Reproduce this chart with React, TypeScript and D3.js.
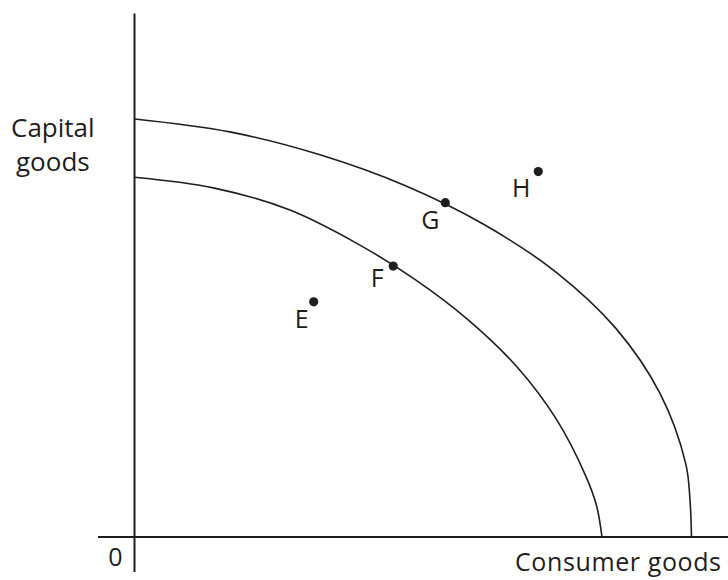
import React from "react";
import * as d3 from "d3";

// Production possibility curves (consumer goods x, capital goods y), units 0..10
const outerX = [0, 1.7, 3.311, 4.829, 6.241, 7.52, 8.596, 9.384, 9.845, 9.92, 9.946];
const outerY = [9.952, 9.645, 9.1, 8.369, 7.44, 6.314, 4.967, 3.417, 1.736, 0.869, 0];
const innerX = [0, 1.427, 2.764, 3.945, 5.013, 5.979, 6.832, 7.53, 8.057, 8.25, 8.348];
const innerY = [8.564, 8.307, 7.79, 7.01, 6.129, 5.148, 4.048, 2.812, 1.457, 0.75, 0];

const pointLabels = ["E", "F", "G", "H"];
const pointX = [3.2, 4.62, 5.55, 7.21];
const pointY = [5.6, 6.45, 7.96, 8.7];
const labelDx = [-12, -16, -15, -17];
const labelDy = [26, 21, 26, 25];

const W = 728;
const H = 580;
const FONT = "'Open Sans', 'Noto Sans', sans-serif";
const INK = "#1e1e1e";

export default function App() {
  const x = d3.scaleLinear().domain([0, 10]).range([134.5, 694.5]);
  const y = d3.scaleLinear().domain([0, 10]).range([537, 117]);

  const line = d3
    .line<[number, number]>()
    .x((d) => x(d[0]))
    .y((d) => y(d[1]))
    .curve(d3.curveCatmullRom.alpha(0.5));

  const outer = outerX.map((v, i) => [v, outerY[i]] as [number, number]);
  const inner = innerX.map((v, i) => [v, innerY[i]] as [number, number]);

  return (
    <svg
      width={W}
      height={H}
      style={{ position: "absolute", left: 0, top: 0, background: "#fff" }}
    >
      {/* axes */}
      <line x1={x(0)} x2={x(0)} y1={13.5} y2={572} stroke={INK} strokeWidth={2} />
      <line x1={98} x2={W} y1={y(0)} y2={y(0)} stroke={INK} strokeWidth={2} />

      {/* curves */}
      <path d={line(outer) || ""} fill="none" stroke={INK} strokeWidth={1.6} />
      <path d={line(inner) || ""} fill="none" stroke={INK} strokeWidth={1.6} />

      {/* points */}
      {pointLabels.map((lab, i) => (
        <g key={lab}>
          <circle cx={x(pointX[i])} cy={y(pointY[i])} r={4.6} fill={INK} />
          <text
            x={x(pointX[i]) + labelDx[i]}
            y={y(pointY[i]) + labelDy[i]}
            textAnchor="middle"
            fontFamily={FONT}
            fontSize={25}
            fill={INK}
          >
            {lab}
          </text>
        </g>
      ))}

      {/* axis labels */}
      <text fontFamily={FONT} fontSize={26} fill={INK}>
        <tspan x={11} y={137}>Capital</tspan>
        <tspan x={16} y={171}>goods</tspan>
      </text>
      <text x={115.5} y={566} textAnchor="middle" fontFamily={FONT} fontSize={25} fill={INK}>
        0
      </text>
      <text x={515} y={571} fontFamily={FONT} fontSize={25} fill={INK} textLength={206}>
        Consumer goods
      </text>
    </svg>
  );
}
